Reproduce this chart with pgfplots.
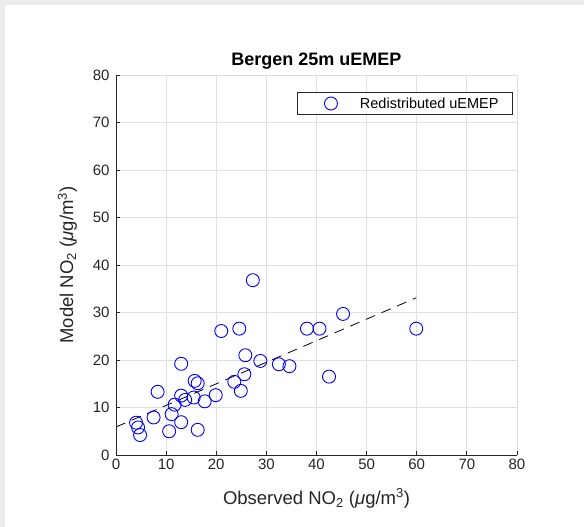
\documentclass[border=0pt]{standalone}
\usepackage{fontspec}
\setmainfont{Liberation Sans}
\usepackage{pgfplots}
\pgfplotsset{compat=1.18}
\definecolor{axgray}{RGB}{38,38,38}
\definecolor{gridgray}{RGB}{223,223,223}
\definecolor{figbg}{RGB}{235,235,235}
\begin{document}
\begin{tikzpicture}[x=1pt,y=1pt]
\fill[figbg] (0,0) rectangle (584,527);
\fill[white] (5,0) rectangle (584,522);
\begin{axis}[
    at={(116pt,72pt)}, anchor=south west,
    scale only axis, width=401pt, height=380pt,
    xmin=0, xmax=80, ymin=0, ymax=80,
    xtick={0,10,...,80}, ytick={0,10,...,80},
    axis x line*=bottom, axis y line*=left,
    axis line style={draw=axgray, line width=0.9pt, -},
    tick align=inside, major tick length=4pt,
    tick style={axgray, line width=0.8pt},
    grid=major, grid style={gridgray, line width=0.8pt},
    /pgf/number format/assume math mode=true,
    ticklabel style={font=\fontsize{15}{18}\selectfont, text=axgray},
    yticklabel style={xshift=-3pt},
    xlabel={Observed NO\textsubscript{2} (\textit{μ}g/m\textsuperscript{3})},
    ylabel={Model NO\textsubscript{2} (\textit{μ}g/m\textsuperscript{3})},
    label style={font=\fontsize{18.5}{21}\selectfont, text=axgray},
    xlabel style={at={(axis description cs:0.5,-0.129)}, anchor=base},
    ylabel style={at={(axis description cs:-0.107,0.5)}, anchor=base},
    title={Bergen 25m uEMEP},
    title style={font=\bfseries\fontsize{18}{21}\selectfont, at={(axis description cs:0.5,1)}, anchor=base, yshift=4pt},
    legend style={at={(axis description cs:0.99,0.955)}, anchor=north east,
        draw=axgray, line width=0.8pt, inner sep=0pt, fill=white,
        font=\fontsize{14.5}{17}\selectfont, text=black,
        nodes={inner sep=0pt, draw=none}},
    legend image code/.code={%
        \path[draw=none, fill=none] (0pt,-11pt) rectangle (63pt,11pt);
        \draw[#1, only marks] plot coordinates {(34pt,0pt)};},
]
% observed vs model
\addplot[only marks, mark=o, mark size=6.5pt, blue, line width=0.9pt] coordinates {
    (27.3,36.8) (21.0,26.1) (24.6,26.6) (38.1,26.6) (40.6,26.6) (45.3,29.7)
    (59.9,26.6) (25.8,21.0) (28.8,19.8) (32.5,19.1) (34.6,18.7) (13.0,19.2)
    (25.6,17.0) (23.6,15.4) (24.9,13.5) (15.7,15.6) (16.3,15.1) (8.3,13.3)
    (13.0,12.5) (13.8,11.6) (15.5,12.1) (17.7,11.3) (19.9,12.6) (11.7,10.6)
    (11.1,8.6) (7.5,7.9) (13.0,6.9) (4.0,6.8) (4.4,5.8) (4.8,4.2)
    (10.6,5.0) (16.3,5.3) (42.5,16.5)
};
\addlegendentry{Redistributed uEMEP\rule{14pt}{0pt}}
% fit line
\addplot[black, line width=0.8pt, dash pattern=on 10pt off 7pt, forget plot] coordinates {
    (0,5.9) (59.9,33.1)
};
\end{axis}
\end{tikzpicture}
\end{document}
